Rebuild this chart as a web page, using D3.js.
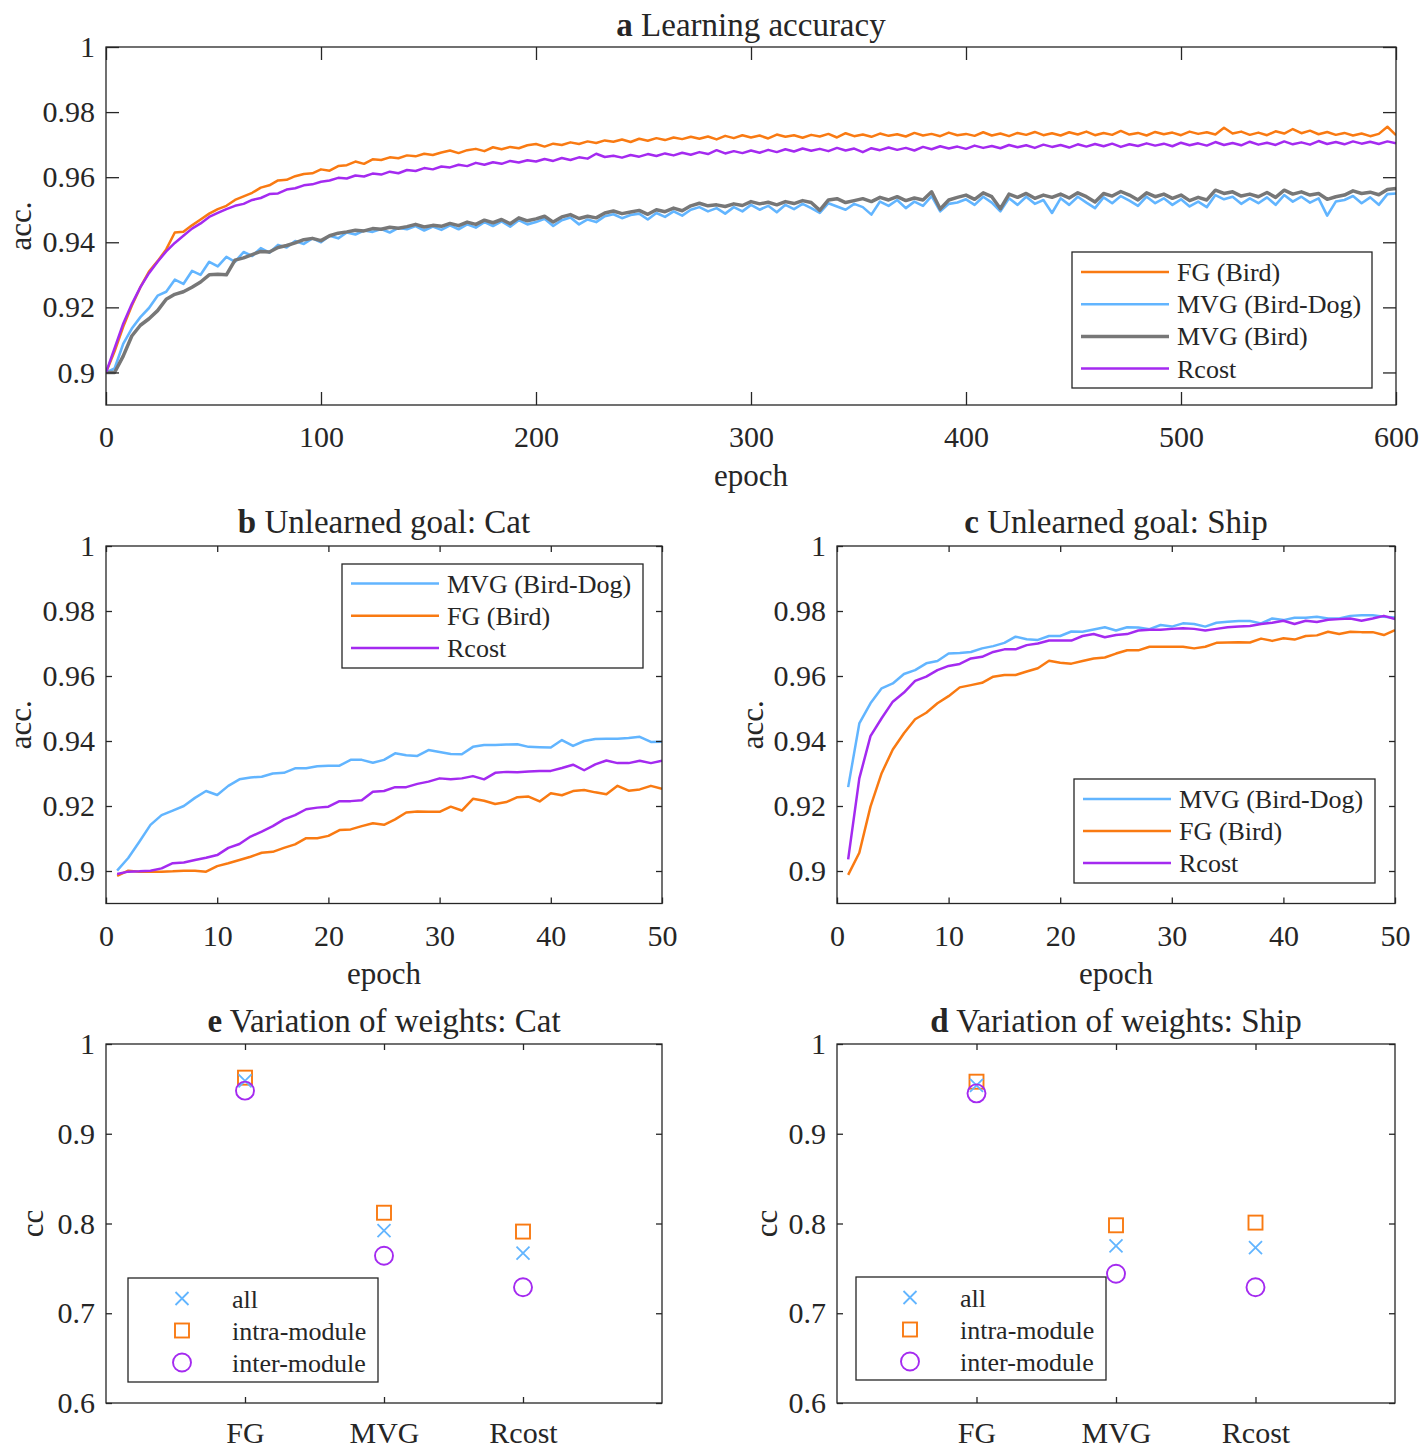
<!DOCTYPE html>
<html><head><meta charset="utf-8">
<script src="https://cdn.jsdelivr.net/npm/d3@7"></script>
<style>
body{margin:0;background:#fff}
svg text{font-family:"Liberation Serif","Times New Roman",serif;fill:#262626}
</style>
</head><body>
<svg id="chart" width="1419" height="1449"></svg>
<script>
// ---------------- DATA ----------------
// Panel a: epochs 0..600 sampled every 4 epochs
const epochsA = d3.range(0, 601, 4);
const fgBirdA = [
.9000,.9065,.9140,.9205,.9262,.9310,.9342,.9378,.9430,.9432,
.9452,.9470,.9488,.9502,.9512,.9530,.9541,.9552,.9568,.9575,
.9590,.9592,.9603,.9610,.9612,.9624,.9620,.9634,.9637,.9648,
.9641,.9655,.9653,.9661,.9658,.9667,.9664,.9672,.9668,.9676,
.9682,.9674,.9683,.9687,.9680,.9692,.9686,.9693,.9689,.9698,
.9702,.9694,.9703,.9699,.9707,.9702,.9710,.9705,.9713,.9709,
.9716,.9708,.9718,.9712,.9720,.9714,.9722,.9717,.9724,.9718,
.9725,.9716,.9727,.9720,.9729,.9722,.9728,.9719,.9731,.9724,
.9729,.9721,.9730,.9725,.9733,.9722,.9735,.9726,.9731,.9724,
.9734,.9727,.9732,.9725,.9736,.9728,.9733,.9726,.9737,.9729,
.9733,.9727,.9738,.9728,.9734,.9726,.9736,.9730,.9739,.9729,
.9735,.9728,.9738,.9731,.9740,.9729,.9736,.9730,.9742,.9731,
.9736,.9728,.9739,.9732,.9737,.9729,.9740,.9733,.9738,.9731,
.9752,.9734,.9740,.9730,.9737,.9729,.9741,.9734,.9748,.9735,
.9743,.9732,.9739,.9730,.9736,.9728,.9734,.9726,.9733,.9755,
.9729];
const mvgBirdDogA = [
.9000,.9012,.9088,.9135,.9170,.9198,.9236,.9248,.9285,.9272,
.9312,.9300,.9340,.9326,.9355,.9340,.9370,.9358,.9382,.9368,
.9392,.9384,.9404,.9395,.9412,.9400,.9420,.9412,.9430,.9424,
.9436,.9432,.9441,.9430,.9444,.9440,.9450,.9436,.9448,.9438,
.9452,.9440,.9455,.9445,.9462,.9450,.9464,.9448,.9468,.9455,
.9462,.9472,.9450,.9468,.9476,.9455,.9470,.9462,.9480,.9486,
.9474,.9484,.9488,.9470,.9490,.9478,.9495,.9482,.9500,.9508,
.9495,.9505,.9488,.9508,.9495,.9515,.9500,.9512,.9492,.9515,
.9502,.9518,.9505,.9490,.9520,.9510,.9500,.9518,.9508,.9485,
.9525,.9512,.9530,.9505,.9525,.9512,.9542,.9495,.9518,.9522,
.9532,.9515,.9540,.9522,.9495,.9535,.9515,.9540,.9518,.9530,
.9490,.9535,.9515,.9540,.9522,.9505,.9538,.9520,.9542,.9528,
.9512,.9540,.9520,.9535,.9515,.9532,.9510,.9525,.9508,.9545,
.9532,.9540,.9518,.9535,.9520,.9538,.9515,.9545,.9525,.9540,
.9522,.9535,.9482,.9525,.9530,.9542,.9520,.9538,.9515,.9548,
.9550];
const mvgBirdA = [
.9000,.9000,.9050,.9112,.9145,.9165,.9190,.9225,.9240,.9248,
.9262,.9278,.9300,.9302,.9300,.9345,.9352,.9362,.9372,.9370,
.9384,.9390,.9398,.9408,.9412,.9405,.9420,.9428,.9432,.9437,
.9435,.9442,.9440,.9446,.9443,.9448,.9455,.9447,.9452,.9449,
.9458,.9451,.9462,.9455,.9468,.9460,.9470,.9457,.9475,.9466,
.9472,.9480,.9462,.9478,.9485,.9473,.9480,.9475,.9490,.9496,
.9488,.9493,.9498,.9486,.9500,.9494,.9505,.9497,.9512,.9520,
.9512,.9515,.9510,.9518,.9513,.9525,.9518,.9523,.9515,.9525,
.9519,.9528,.9522,.9498,.9530,.9534,.9522,.9528,.9534,.9525,
.9538,.9530,.9540,.9528,.9536,.9530,.9555,.9502,.9530,.9538,
.9545,.9532,.9552,.9540,.9503,.9548,.9538,.9550,.9535,.9545,
.9538,.9548,.9536,.9552,.9540,.9524,.9550,.9542,.9556,.9545,
.9530,.9552,.9540,.9548,.9535,.9545,.9528,.9538,.9530,.9560,
.9550,.9555,.9542,.9548,.9540,.9553,.9538,.9560,.9548,.9555,
.9545,.9550,.9532,.9540,.9545,.9558,.9550,.9554,.9546,.9562,
.9565];
const rcostA = [
.9000,.9075,.9150,.9210,.9262,.9305,.9340,.9372,.9398,.9420,
.9442,.9458,.9478,.9490,.9502,.9512,.9518,.9530,.9536,.9548,
.9550,.9562,.9566,.9575,.9578,.9586,.9590,.9598,.9596,.9605,
.9602,.9611,.9608,.9617,.9612,.9622,.9619,.9628,.9624,.9633,
.9630,.9638,.9634,.9644,.9638,.9646,.9641,.9650,.9645,.9652,
.9648,.9656,.9650,.9659,.9653,.9661,.9657,.9672,.9662,.9666,
.9660,.9668,.9663,.9671,.9665,.9673,.9667,.9675,.9669,.9677,
.9671,.9683,.9673,.9680,.9674,.9682,.9675,.9684,.9677,.9686,
.9679,.9688,.9681,.9687,.9680,.9690,.9682,.9688,.9677,.9689,
.9683,.9691,.9684,.9690,.9682,.9693,.9686,.9695,.9688,.9694,
.9687,.9697,.9690,.9696,.9689,.9699,.9692,.9698,.9690,.9700,
.9693,.9699,.9691,.9701,.9694,.9702,.9695,.9703,.9693,.9701,
.9696,.9704,.9697,.9703,.9695,.9706,.9698,.9704,.9697,.9708,
.9699,.9705,.9698,.9709,.9700,.9706,.9699,.9710,.9701,.9707,
.9700,.9711,.9702,.9708,.9701,.9710,.9703,.9709,.9702,.9710,
.9704];

// Panels b, c: epochs 1..50
const epochsBC = d3.range(1, 51);
const catMvgBirdDog = [
.9001,.9040,.9090,.9142,.9172,.9186,.9200,.9225,.9246,.9234,
.9262,.9282,.9288,.9290,.9300,.9302,.9316,.9316,.9322,.9324,
.9324,.9342,.9342,.9333,.9342,.9362,.9356,.9354,.9372,.9366,
.9360,.9359,.9382,.9388,.9388,.9389,.9390,.9382,.9381,.9380,
.9403,.9385,.9400,.9406,.9407,.9407,.9409,.9413,.9397,.9398];
const catFgBird = [
.8985,.9001,.8998,.8998,.8998,.8999,.9001,.9001,.8998,.9015,
.9024,.9034,.9044,.9056,.9059,.9071,.9082,.9101,.9101,.9108,
.9126,.9128,.9138,.9147,.9142,.9159,.9180,.9183,.9182,.9182,
.9198,.9186,.9222,.9216,.9206,.9212,.9227,.9229,.9214,.9239,
.9233,.9246,.9249,.9242,.9236,.9262,.9247,.9251,.9262,.9253];
const catRcost = [
.8991,.8998,.8999,.9001,.9008,.9024,.9026,.9034,.9041,.9049,
.9071,.9083,.9106,.9121,.9138,.9159,.9172,.9190,.9195,.9198,
.9215,.9215,.9218,.9244,.9246,.9258,.9258,.9268,.9275,.9285,
.9282,.9285,.9292,.9282,.9302,.9305,.9304,.9306,.9308,.9308,
.9317,.9327,.9310,.9328,.9340,.9332,.9332,.9339,.9332,.9339];
const shipMvgBirdDog = [
.9258,.9454,.9516,.9562,.9577,.9606,.9618,.9639,.9646,.9669,
.9671,.9674,.9685,.9692,.9702,.9721,.9713,.9711,.9723,.9723,
.9737,.9736,.9743,.9750,.9740,.9750,.9749,.9744,.9757,.9752,
.9762,.9760,.9752,.9764,.9767,.9769,.9769,.9762,.9777,.9772,
.9779,.9779,.9782,.9777,.9777,.9785,.9787,.9787,.9782,.9780];
const shipFgBird = [
.8988,.9056,.9198,.9301,.9374,.9424,.9467,.9487,.9516,.9538,
.9565,.9572,.9579,.9598,.9603,.9603,.9614,.9624,.9647,.9641,
.9638,.9646,.9654,.9657,.9669,.9679,.9679,.9690,.9690,.9690,
.9690,.9685,.9690,.9702,.9703,.9704,.9703,.9715,.9708,.9716,
.9712,.9723,.9725,.9736,.9729,.9736,.9735,.9735,.9726,.9741];
const shipRcost = [
.9036,.9285,.9415,.9470,.9521,.9549,.9585,.9598,.9618,.9631,
.9637,.9654,.9659,.9674,.9682,.9682,.9695,.9700,.9709,.9709,
.9709,.9723,.9729,.9719,.9726,.9729,.9740,.9742,.9742,.9745,
.9747,.9745,.9740,.9745,.9750,.9752,.9754,.9760,.9764,.9770,
.9760,.9770,.9766,.9773,.9775,.9777,.9770,.9777,.9785,.9775];

// Panels e, d: correlation coefficients
const methods = ["FG", "MVG", "Rcost"];
const catAll   = [0.959, 0.792, 0.767];
const catIntra = [0.9625, 0.812, 0.791];
const catInter = [0.948, 0.764, 0.729];
const shipAll   = [0.954, 0.775, 0.773];
const shipIntra = [0.958, 0.798, 0.801];
const shipInter = [0.945, 0.744, 0.729];

const yTicksAcc = [0.9, 0.92, 0.94, 0.96, 0.98, 1];
const yTicksCC = [0.6, 0.7, 0.8, 0.9, 1];
const xTicksA = [0, 100, 200, 300, 400, 500, 600];
const xTicksBC = [0, 10, 20, 30, 40, 50];

// ---------------- STYLE ----------------
const C = {fg:"#F97A12", bd:"#62B5FF", bird:"#777777", rc:"#A42AF0", ax:"#262626"};
const svg = d3.select("#chart");
const TICK_FS = 30, LEG_FS = 26, TITLE_FS = 33;

function fmtTick(v){ return String(+v.toFixed(2)); }

function styleAxis(sel){
  sel.select(".domain").remove();
  sel.selectAll(".tick line").attr("stroke", C.ax).attr("stroke-width", 1.3);
  sel.selectAll(".tick text").attr("font-size", TICK_FS).attr("fill", C.ax);
}

function frame(p){
  const g = svg.append("g");
  const {x, y, L, R, T, B, tl} = p;
  g.append("g").attr("transform", `translate(0,${B})`)
    .call(d3.axisBottom(x).tickValues(p.xTicks).tickSize(-tl).tickPadding(p.xPad || 21).tickFormat(p.xFmt))
    .call(styleAxis);
  g.append("g").attr("transform", `translate(0,${T})`)
    .call(d3.axisTop(x).tickValues(p.xTicks).tickSize(-tl).tickFormat(""))
    .call(styleAxis);
  g.append("g").attr("transform", `translate(${L},0)`)
    .call(d3.axisLeft(y).tickValues(p.yTicks).tickSize(-tl).tickPadding(11).tickFormat(fmtTick))
    .call(styleAxis);
  g.append("g").attr("transform", `translate(${R},0)`)
    .call(d3.axisRight(y).tickValues(p.yTicks).tickSize(-tl).tickFormat(""))
    .call(styleAxis);
  g.append("rect").attr("x", L).attr("y", T).attr("width", R - L).attr("height", B - T)
    .attr("fill", "none").attr("stroke", C.ax).attr("stroke-width", 1.3);
  const t = svg.append("text").attr("x", (L + R) / 2).attr("y", p.titleY)
    .attr("text-anchor", "middle").attr("font-size", TITLE_FS);
  t.append("tspan").attr("font-weight", "bold").text(p.titleBold);
  t.append("tspan").text(" " + p.title);
  svg.append("text").attr("transform", `translate(${p.yLabX},${(T + B) / 2}) rotate(-90)`)
    .attr("text-anchor", "middle").attr("font-size", 31).text(p.yLab);
  if (p.xLab) {
    svg.append("text").attr("x", (L + R) / 2).attr("y", p.xLabY)
      .attr("text-anchor", "middle").attr("font-size", 31).text(p.xLab);
  }
  return g;
}

let clipId = 0;
function linePanel(p){
  const x = d3.scaleLinear().domain(p.xDomain).range([p.L, p.R]);
  const y = d3.scaleLinear().domain(p.yDomain).range([p.B, p.T]);
  const id = "clip" + (clipId++);
  svg.append("clipPath").attr("id", id).append("rect")
    .attr("x", p.L).attr("y", p.T).attr("width", p.R - p.L).attr("height", p.B - p.T);
  const lg = svg.append("g").attr("clip-path", `url(#${id})`);
  p.series.forEach(s => {
    const line = d3.line().x((d, i) => x(s.xs[i])).y(d => y(d));
    lg.append("path").datum(s.ys).attr("d", line).attr("fill", "none")
      .attr("stroke", s.color).attr("stroke-width", s.w).attr("stroke-linejoin", "round");
  });
  frame(Object.assign({x, y}, p));
  const lgd = p.legend;
  svg.append("rect").attr("x", lgd.x).attr("y", lgd.y).attr("width", lgd.w).attr("height", lgd.h)
    .attr("fill", "#fff").attr("stroke", C.ax).attr("stroke-width", 1.3);
  lgd.items.forEach((s, i) => {
    const yy = lgd.y + lgd.first + i * lgd.step;
    svg.append("line").attr("x1", lgd.x + 9).attr("x2", lgd.x + 97).attr("y1", yy).attr("y2", yy)
      .attr("stroke", s.color).attr("stroke-width", s.w);
    svg.append("text").attr("x", lgd.x + 105).attr("y", yy + 9).attr("font-size", LEG_FS).text(s.label);
  });
}

function marker(g, kind, cx, cy, color){
  if (kind === "x") {
    g.append("path").attr("d", "M-6.5,-6.5L6.5,6.5M-6.5,6.5L6.5,-6.5").attr("transform", `translate(${cx},${cy})`)
      .attr("stroke", color).attr("stroke-width", 1.8).attr("fill", "none");
  } else if (kind === "sq") {
    g.append("rect").attr("x", cx - 7).attr("y", cy - 7).attr("width", 14).attr("height", 14)
      .attr("stroke", color).attr("stroke-width", 1.9).attr("fill", "none");
  } else {
    g.append("circle").attr("cx", cx).attr("cy", cy).attr("r", 9)
      .attr("stroke", color).attr("stroke-width", 1.9).attr("fill", "none");
  }
}

function ccPanel(p){
  const x = d3.scalePoint().domain(methods).range([p.L, p.R]).padding(1);
  const y = d3.scaleLinear().domain([0.6, 1]).range([p.B, p.T]);
  frame(Object.assign({x, y, xTicks: methods, yTicks: yTicksCC, xFmt: d => d, tl: 6, xPad: 19}, p));
  const g = svg.append("g");
  const sets = [["sq", p.intra, C.fg], ["x", p.all, C.bd], ["o", p.inter, C.rc]];
  sets.forEach(([k, vals, col]) => methods.forEach((m, i) => marker(g, k, x(m), y(vals[i]), col)));
  const lgd = p.legend;
  svg.append("rect").attr("x", lgd.x).attr("y", lgd.y).attr("width", lgd.w).attr("height", lgd.h)
    .attr("fill", "#fff").attr("stroke", C.ax).attr("stroke-width", 1.3);
  [["x", C.bd, "all"], ["sq", C.fg, "intra-module"], ["o", C.rc, "inter-module"]].forEach(([k, col, lab], i) => {
    const yy = lgd.y + 20.5 + i * 32;
    marker(svg, k, lgd.x + 54, yy, col);
    svg.append("text").attr("x", lgd.x + 104).attr("y", yy + 9).attr("font-size", LEG_FS).text(lab);
  });
}

// ---------------- PANELS ----------------
const sA = [
  {xs: epochsA, ys: fgBirdA, color: C.fg, w: 2.5, label: "FG (Bird)"},
  {xs: epochsA, ys: mvgBirdDogA, color: C.bd, w: 2.6, label: "MVG (Bird-Dog)"},
  {xs: epochsA, ys: mvgBirdA, color: C.bird, w: 3.5, label: "MVG (Bird)"},
  {xs: epochsA, ys: rcostA, color: C.rc, w: 2.5, label: "Rcost"}
];
linePanel({L: 106, R: 1396, T: 47, B: 405, tl: 13, xDomain: [0, 600], yDomain: [0.89, 1],
  xTicks: xTicksA, yTicks: yTicksAcc, xFmt: d => d,
  titleBold: "a", title: "Learning accuracy", titleY: 36, yLab: "acc.", yLabX: 31, xLab: "epoch", xLabY: 486,
  series: sA, legend: {x: 1072, y: 252, w: 300, h: 136, first: 20, step: 32.2, items: sA}});

const sB = [
  {xs: epochsBC, ys: catMvgBirdDog, color: C.bd, w: 2.5, label: "MVG (Bird-Dog)"},
  {xs: epochsBC, ys: catFgBird, color: C.fg, w: 2.5, label: "FG (Bird)"},
  {xs: epochsBC, ys: catRcost, color: C.rc, w: 2.5, label: "Rcost"}
];
linePanel({L: 106, R: 662, T: 546, B: 903.5, tl: 6, xDomain: [0, 50], yDomain: [0.89, 1],
  xTicks: xTicksBC, yTicks: yTicksAcc, xFmt: d => d,
  titleBold: "b", title: "Unlearned goal: Cat", titleY: 533, yLab: "acc.", yLabX: 31, xLab: "epoch", xLabY: 984,
  series: sB, legend: {x: 342, y: 564, w: 301, h: 104, first: 19.5, step: 32.2, items: sB}});

const sC = [
  {xs: epochsBC, ys: shipMvgBirdDog, color: C.bd, w: 2.5, label: "MVG (Bird-Dog)"},
  {xs: epochsBC, ys: shipFgBird, color: C.fg, w: 2.5, label: "FG (Bird)"},
  {xs: epochsBC, ys: shipRcost, color: C.rc, w: 2.5, label: "Rcost"}
];
linePanel({L: 837, R: 1395, T: 546, B: 903.5, tl: 6, xDomain: [0, 50], yDomain: [0.89, 1],
  xTicks: xTicksBC, yTicks: yTicksAcc, xFmt: d => d,
  titleBold: "c", title: "Unlearned goal: Ship", titleY: 533, yLab: "acc.", yLabX: 763, xLab: "epoch", xLabY: 984,
  series: sC, legend: {x: 1074, y: 779, w: 301, h: 104, first: 20, step: 32, items: sC}});

ccPanel({L: 106, R: 662, T: 1044, B: 1403, titleBold: "e", title: "Variation of weights: Cat", titleY: 1032,
  yLab: "cc", yLabX: 43, all: catAll, intra: catIntra, inter: catInter,
  legend: {x: 128, y: 1278, w: 250, h: 104}});
ccPanel({L: 837, R: 1395, T: 1044, B: 1403, titleBold: "d", title: "Variation of weights: Ship", titleY: 1032,
  yLab: "cc", yLabX: 777, all: shipAll, intra: shipIntra, inter: shipInter,
  legend: {x: 856, y: 1277, w: 250, h: 103}});
</script>
</body></html>
